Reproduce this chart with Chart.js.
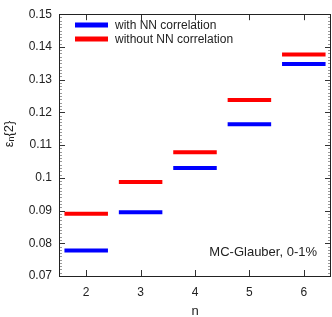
<!DOCTYPE html>
<html>
<head>
<meta charset="utf-8">
<script src="https://cdn.jsdelivr.net/npm/chart.js@4/dist/chart.umd.min.js"></script>
<style>
html,body{margin:0;padding:0;background:#fff;}
#wrap{width:332px;height:317px;position:relative;}
</style>
</head>
<body>
<div id="wrap"><canvas id="c" width="332" height="317"></canvas></div>
<script>
const categories = [2, 3, 4, 5, 6];
const withNN = [0.0778, 0.0895, 0.1030, 0.1164, 0.1348];
const withoutNN = [0.0890, 0.0987, 0.1078, 0.1238, 0.1377];
const yTickValues = [0.07, 0.08, 0.09, 0.10, 0.11, 0.12, 0.13, 0.14, 0.15];
const seriesNames = ['with NN correlation', 'without NN correlation'];
const annotationText = 'MC-Glauber, 0-1%';
const xTitle = 'n';

const halfWidth = 0.4;
function segs(vals) {
  const out = [];
  categories.forEach((c, i) => {
    out.push({x: c - halfWidth, y: vals[i]});
    out.push({x: c + halfWidth, y: vals[i]});
    out.push({x: c + halfWidth + 0.05, y: null});
  });
  return out;
}

const FONT = '"Liberation Sans", Arial, sans-serif';
const TXT = '#222';

const decor = {
  id: 'decor',
  afterDraw(chart) {
    const ctx = chart.ctx;
    const a = chart.chartArea;
    const xs = chart.scales.x, ys = chart.scales.y;
    ctx.save();
    // minor y ticks
    ctx.lineWidth = 1;
    ctx.strokeStyle = '#999';
    for (let k = 70; k <= 150; k++) {
      if (k % 10 === 0) continue;
      const y = Math.round(ys.getPixelForValue(k / 1000)) + 0.5;
      ctx.beginPath();
      ctx.moveTo(a.left, y); ctx.lineTo(a.left + 3, y);
      ctx.moveTo(a.right, y); ctx.lineTo(a.right - 3, y);
      ctx.stroke();
    }
    // major ticks
    ctx.strokeStyle = '#333';
    yTickValues.forEach(v => {
      const y = Math.round(ys.getPixelForValue(v)) + 0.5;
      ctx.beginPath();
      ctx.moveTo(a.left, y); ctx.lineTo(a.left + 6, y);
      ctx.moveTo(a.right, y); ctx.lineTo(a.right - 6, y);
      ctx.stroke();
    });
    categories.forEach(v => {
      const x = Math.round(xs.getPixelForValue(v)) + 0.5;
      ctx.beginPath();
      ctx.moveTo(x, a.bottom); ctx.lineTo(x, a.bottom - 6);
      ctx.moveTo(x, a.top); ctx.lineTo(x, a.top + 6);
      ctx.stroke();
    });
    // frame
    ctx.strokeStyle = '#222';
    ctx.strokeRect(Math.round(a.left) + 0.5, Math.round(a.top) + 0.5,
                   Math.round(a.right - a.left) - 1, Math.round(a.bottom - a.top));
    // legend
    const colors = ['#0000ff', '#ff0000'];
    ctx.font = '12px ' + FONT;
    ctx.textBaseline = 'middle';
    ctx.textAlign = 'left';
    seriesNames.forEach((name, i) => {
      const y = 25 + i * 14;
      ctx.fillStyle = colors[i];
      ctx.fillRect(75, y - 2.5, 33, 5);
      ctx.fillStyle = TXT;
      ctx.fillText(name, 115, y + 0.5);
    });
    // annotation
    ctx.font = '13px ' + FONT;
    ctx.textAlign = 'right';
    ctx.fillText(annotationText, 317, 252);
    // x title
    ctx.textAlign = 'center';
    ctx.font = '13px ' + FONT;
    ctx.fillText(xTitle, (a.left + a.right) / 2, 311);
    // y title with subscript
    ctx.translate(9, 134);
    ctx.rotate(-Math.PI / 2);
    ctx.textAlign = 'left';
    ctx.textBaseline = 'middle';
    const p1 = 'ε', p2 = 'n', p3 = '{2}';
    ctx.font = '13px ' + FONT;
    const w1 = ctx.measureText(p1).width;
    const w3 = ctx.measureText(p3).width;
    ctx.font = '9px ' + FONT;
    const w2 = ctx.measureText(p2).width;
    const total = w1 + w2 + w3;
    let x0 = -total / 2;
    ctx.font = '13px ' + FONT;
    ctx.fillText(p1, x0, 0);
    ctx.font = '9px ' + FONT;
    ctx.fillText(p2, x0 + w1, 3);
    ctx.font = '13px ' + FONT;
    ctx.fillText(p3, x0 + w1 + w2, 0);
    ctx.restore();
  }
};

new Chart(document.getElementById('c'), {
  type: 'line',
  data: {
    datasets: [
      {label: seriesNames[0], data: segs(withNN), borderColor: '#0000ff', borderWidth: 4,
       pointRadius: 0, spanGaps: false, borderCapStyle: 'butt', tension: 0},
      {label: seriesNames[1], data: segs(withoutNN), borderColor: '#ff0000', borderWidth: 4,
       pointRadius: 0, spanGaps: false, borderCapStyle: 'butt', tension: 0}
    ]
  },
  options: {
    responsive: false,
    animation: false,
    parsing: true,
    layout: {padding: {top: 6, right: 1, left: 0, bottom: 0}},
    plugins: {legend: {display: false}, tooltip: {enabled: false}},
    scales: {
      x: {
        type: 'linear', min: 1.5, max: 6.5,
        afterBuildTicks: s => { s.ticks = categories.map(v => ({value: v})); },
        afterFit: s => { s.height = 41; },
        grid: {display: false, drawTicks: false},
        border: {display: false},
        ticks: {color: TXT, font: {family: FONT, size: 12}, padding: 9,
                callback: v => String(v), maxRotation: 0}
      },
      y: {
        type: 'linear', min: 0.07, max: 0.15,
        afterBuildTicks: s => { s.ticks = yTickValues.map(v => ({value: v})); },
        afterFit: s => { s.width = 59; },
        grid: {display: false, drawTicks: false},
        border: {display: false},
        ticks: {color: TXT, font: {family: FONT, size: 12}, padding: 7,
                callback: v => String(parseFloat(Number(v).toFixed(3)))}
      }
    }
  },
  plugins: [decor]
});
</script>
</body>
</html>
